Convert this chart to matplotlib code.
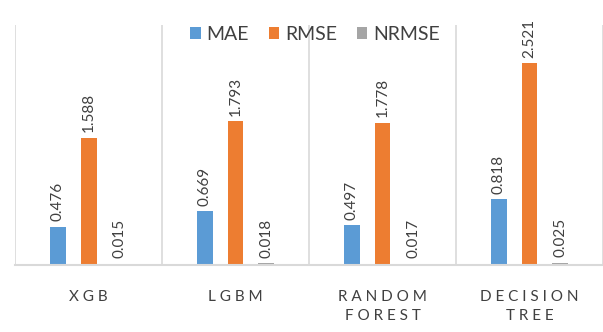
import numpy as np
import matplotlib.pyplot as plt

models = ['XGB', 'LGBM', 'RANDOM\nFOREST', 'DECISION\nTREE']
mae = [0.476, 0.669, 0.497, 0.818]
rmse = [1.588, 1.793, 1.778, 2.521]
nrmse = [0.015, 0.018, 0.017, 0.025]

series = [('MAE', mae, '#5B9BD5'), ('RMSE', rmse, '#ED7D31'), ('NRMSE', nrmse, '#A5A5A5')]

plt.rcParams['font.family'] = ['Lato', 'DejaVu Sans']

fig = plt.figure(figsize=(6.03, 3.32), dpi=100)
ax = fig.add_axes([0.025, 0.202, 0.975, 0.723])

x = np.arange(len(models))
width = 0.108
step = 0.21

for i, (name, vals, color) in enumerate(series):
    pos = x + (i - 1) * step
    ax.bar(pos, vals, width, color=color, label=name)
    for p, v in zip(pos, vals):
        ax.annotate('%.3f' % v, (p, v), xytext=(0, 4), textcoords='offset points',
                    rotation=90, ha='center', va='bottom', fontsize=11, color='#404040')

# group separators
for b in np.arange(-0.5, len(models), 1.0):
    ax.axvline(b, color='#D9D9D9', lw=1.2)

ax.set_xlim(-0.5, len(models) - 0.5)
ax.set_ylim(0, 3.0)
ax.set_yticks([])
ax.set_xticks(x)
ax.set_xticklabels([' '.join(list(m)).replace(' \n ', '\n') for m in models],
                   fontsize=11, color='#404040', linespacing=1.45)
ax.tick_params(axis='x', length=0, pad=18)

for s in ['top', 'right', 'left']:
    ax.spines[s].set_visible(False)
ax.spines['bottom'].set_color('#D9D9D9')
ax.spines['bottom'].set_linewidth(1.5)

ax.legend(loc='center', bbox_to_anchor=(0.51, 0.96), ncol=3, frameon=False,
          fontsize=14, handlelength=0.55, handleheight=0.55, columnspacing=1.0,
          handletextpad=0.3, labelcolor='#404040', borderpad=0)

fig.savefig('out.png', dpi=100)
